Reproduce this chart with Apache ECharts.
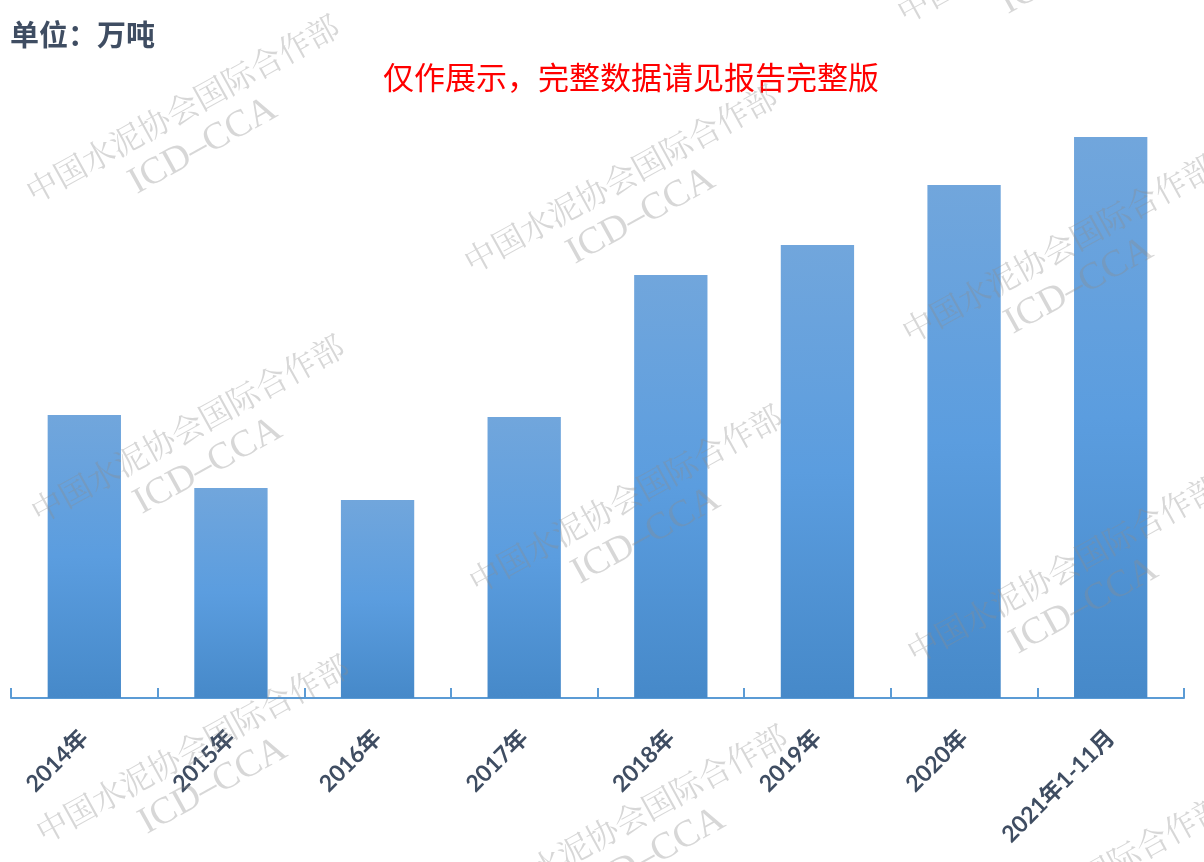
<!DOCTYPE html>
<html>
<head>
<meta charset="utf-8">
<script src="https://cdn.jsdelivr.net/npm/echarts@6/dist/echarts.min.js"></script>
<style>html,body{margin:0;padding:0;background:#fff;}#main{width:1204px;height:862px;}</style>
</head>
<body>
<div id="main"></div>
<script>
const categories = ['2014年', '2015年', '2016年', '2017年', '2018年', '2019年', '2020年', '2021年1-11月'];
const values = [283, 210, 198, 281, 423, 453, 513, 561];
const unitText = '单位：万吨';
const noticeText = '仅作展示，完整数据请见报告完整版';
const watermarkMain = '中国水泥协会国际合作部';
const watermarkSub = 'ICD–CCA';

const chart = echarts.init(document.getElementById('main'), null, {renderer: 'canvas'});

const wmGroups = [];
for (let c = 0; c < 3; c++) {
  for (let r = -1; r < 3; r++) {
    wmGroups.push({
      type: 'group',
      x: 203 + 438 * c + 5 * r,
      y: 146 + 70 * c + 320 * r,
      rotation: 29 * Math.PI / 180,
      z: 100,
      silent: true,
      children: [
        {type: 'text', x: 0, y: -43, z: 100, style: {text: watermarkMain, align: 'center', verticalAlign: 'middle', fill: 'rgba(140,140,140,0.35)', fontSize: 32, fontFamily: '"Noto Serif CJK SC","Noto Sans CJK SC", serif'}},
        {type: 'text', x: 0, y: 0, z: 100, style: {text: watermarkSub, align: 'center', verticalAlign: 'middle', fill: 'rgba(140,140,140,0.35)', fontSize: 38, fontFamily: '"Liberation Serif", serif'}}
      ]
    });
  }
}

chart.setOption({
  backgroundColor: '#ffffff',
  animation: false,
  title: [
    {text: unitText, left: 5, top: 15, textStyle: {fontSize: 29, fontWeight: 'bold', color: '#3f4d62', fontFamily: '"Noto Sans CJK SC", sans-serif'}},
    {text: noticeText, left: 378, top: 57, textStyle: {fontSize: 31, fontWeight: 'normal', color: '#ff0000', fontFamily: '"Noto Sans CJK SC", sans-serif'}}
  ],
  grid: {left: 11, right: 20, top: 98, bottom: 164, containLabel: false},
  xAxis: {
    type: 'category',
    data: categories,
    axisLine: {show: true, lineStyle: {color: '#5b9bd5', width: 2}},
    axisTick: {show: true, inside: true, length: 10, lineStyle: {color: '#5b9bd5', width: 2}},
    axisLabel: {show: true, rotate: 45, interval: 0, margin: 36, color: '#3f4d62', fontSize: 23, fontWeight: 'bold', fontFamily: 'Lato, "Noto Sans CJK SC", sans-serif'}
  },
  yAxis: {
    type: 'value', min: 0, max: 600,
    show: false,
    splitLine: {show: false}
  },
  series: [{
    type: 'bar',
    data: values,
    barWidth: '50%',
    itemStyle: {
      color: new echarts.graphic.LinearGradient(0, 0, 0, 1, [
        {offset: 0, color: '#71a6dc'},
        {offset: 0.5, color: '#5b9ddf'},
        {offset: 1, color: '#4689c9'}
      ])
    }
  }],
  graphic: wmGroups
});
</script>
</body>
</html>
